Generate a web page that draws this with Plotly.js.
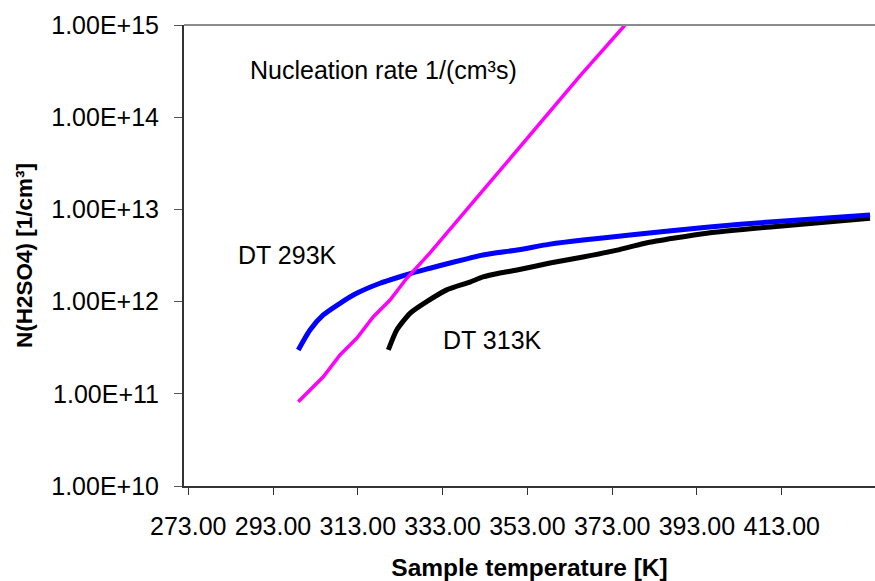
<!DOCTYPE html>
<html>
<head>
<meta charset="utf-8">
<script src="https://cdn.plot.ly/plotly-3.0.1.min.js"></script>
<style>
  html, body { margin: 0; padding: 0; background: #ffffff; }
  #chart { width: 875px; height: 581px; }
</style>
</head>
<body>
<div id="chart"></div>
<script>
// ---- Data ----
// Nucleation rate 1/(cm³s)
const nucT    = [298.96, 304.86, 308.80, 312.74, 316.66, 320.60, 324.54, 330.03, 341.83, 353.62, 365.42, 376.03, 385.0];
const nucRate = [8.20e10, 1.53e11, 2.64e11, 4.00e11, 6.85e11, 1.04e12, 1.79e12, 3.37e12, 1.47e13, 6.41e13, 2.80e14, 1.00e15, 3.0e15];

// DT 293K
const dt293T = [298.96, 301.72, 304.86, 308.80, 312.74, 318.24, 322.96, 326.90, 330.03, 334.75, 342.54, 350.56, 358.34, 366.13, 377.21, 395.31, 411.02, 433.83];
const dt293N = [2.99e11, 4.92e11, 7.16e11, 9.59e11, 1.23e12, 1.58e12, 1.86e12, 2.11e12, 2.30e12, 2.62e12, 3.20e12, 3.63e12, 4.20e12, 4.66e12, 5.27e12, 6.40e12, 7.36e12, 8.69e12];

// DT 313K
const dt313T = [320.20, 322.18, 325.31, 329.25, 333.97, 339.47, 342.54, 346.55, 350.56, 358.34, 366.13, 374.15, 380.75, 395.31, 411.02, 433.83];
const dt313N = [2.99e11, 4.92e11, 7.46e11, 9.98e11, 1.34e12, 1.63e12, 1.85e12, 2.04e12, 2.20e12, 2.62e12, 3.05e12, 3.62e12, 4.30e12, 5.51e12, 6.49e12, 8.00e12];

// Tick labels
const xTickVals = [273, 293, 313, 333, 353, 373, 393, 413];
const xTickText = ["273.00", "293.00", "313.00", "333.00", "353.00", "373.00", "393.00", "413.00"];
const yTickVals = [1e10, 1e11, 1e12, 1e13, 1e14, 1e15];
const yTickText = ["1.00E+10", "1.00E+11", "1.00E+12", "1.00E+13", "1.00E+14", "1.00E+15"];

const FONT = "Liberation Sans, Arial, Helvetica, sans-serif";

const traces = [
  { x: dt313T, y: dt313N, type: "scatter", mode: "lines", name: "DT 313K",
    line: { color: "#000000", width: 5, shape: "spline", smoothing: 0.6 } },
  { x: dt293T, y: dt293N, type: "scatter", mode: "lines", name: "DT 293K",
    line: { color: "#0000ff", width: 5, shape: "spline", smoothing: 0.6 } },
  { x: nucT, y: nucRate, type: "scatter", mode: "lines", name: "Nucleation rate 1/(cm³s)",
    line: { color: "#ff00ff", width: 3.5 } }
];

const layout = {
  width: 875, height: 581,
  margin: { l: 184, r: 0, t: 25, b: 95, pad: 0 },
  paper_bgcolor: "#ffffff", plot_bgcolor: "#ffffff",
  showlegend: false,
  font: { family: FONT, size: 25, color: "#000000" },
  xaxis: {
    range: [272, 435],
    tickvals: xTickVals, ticktext: xTickText,
    showgrid: false, zeroline: false,
    showline: true, linecolor: "#333333", linewidth: 2,
    ticks: "outside", ticklen: 7, tickcolor: "#333333", tickwidth: 1,
    ticklabelstandoff: 10,
    tickfont: { family: FONT, size: 25, color: "#000000" },
    title: { text: "Sample temperature [K]", font: { family: FONT, size: 24.5, color: "#000000", weight: "bold" }, standoff: 20 },
    automargin: false
  },
  yaxis: {
    type: "log", range: [10, 15],
    tickvals: yTickVals, ticktext: yTickText,
    showgrid: false, zeroline: false,
    showline: true, linecolor: "#333333", linewidth: 2,
    ticks: "outside", ticklen: 8, tickcolor: "#555555", tickwidth: 1,
    ticklabelstandoff: 10,
    tickfont: { family: FONT, size: 25, color: "#000000" },
    title: { text: "N(H2SO4) [1/cm³]", font: { family: FONT, size: 22.5, color: "#000000", weight: "bold" }, standoff: 12 },
    automargin: false
  },
  shapes: [
    { type: "line", xref: "paper", yref: "paper", x0: 0, x1: 1, y0: 1, y1: 1,
      line: { color: "#8c8c8c", width: 2 } }
  ],
  annotations: [
    { text: "Nucleation rate 1/(cm³s)", xref: "paper", yref: "paper", x: 0.0925, y: 0.9024,
      xanchor: "left", yanchor: "middle", showarrow: false, font: { family: FONT, size: 25, color: "#000000" } },
    { text: "DT 293K", xref: "paper", yref: "paper", x: 0.0755, y: 0.501,
      xanchor: "left", yanchor: "middle", showarrow: false, font: { family: FONT, size: 25, color: "#000000" } },
    { text: "DT 313K", xref: "paper", yref: "paper", x: 0.372, y: 0.3167,
      xanchor: "left", yanchor: "middle", showarrow: false, font: { family: FONT, size: 25, color: "#000000" } }
  ]
};

Plotly.newPlot("chart", traces, layout, { staticPlot: true, displayModeBar: false });
</script>
</body>
</html>
